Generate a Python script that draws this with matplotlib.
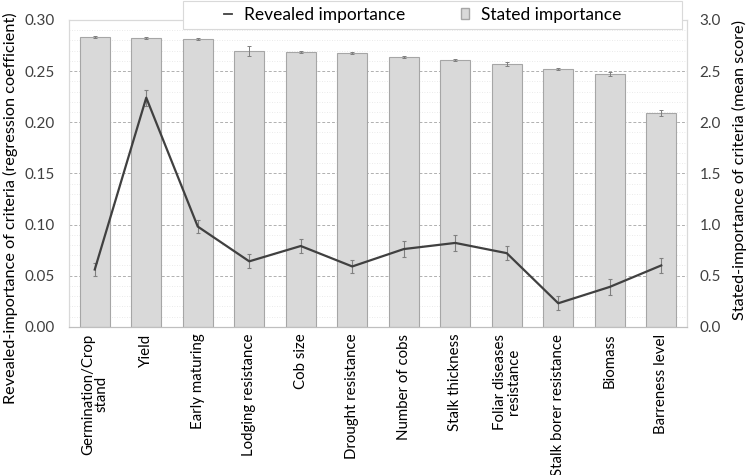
import matplotlib.pyplot as plt
import numpy as np
from matplotlib.lines import Line2D
from matplotlib.patches import Patch, Rectangle

plt.rcParams['font.family'] = ['Lato', 'DejaVu Sans']

# criteria on the x axis
criteria = ['Germination/Crop\nstand', 'Yield', 'Early maturing', 'Lodging resistance',
            'Cob size', 'Drought resistance', 'Number of cobs', 'Stalk thickness',
            'Foliar diseases\nresistance', 'Stalk borer resistance', 'Biomass', 'Barreness level']

# stated importance (mean score, right axis) and its error
stated = [2.83, 2.82, 2.81, 2.70, 2.69, 2.68, 2.64, 2.61, 2.57, 2.52, 2.47, 2.09]
stated_err = [0.01, 0.01, 0.01, 0.05, 0.01, 0.01, 0.01, 0.01, 0.02, 0.01, 0.02, 0.03]

# revealed importance (regression coefficient, left axis) and its error
revealed = [0.056, 0.224, 0.098, 0.064, 0.079, 0.059, 0.076, 0.082, 0.072, 0.023, 0.039, 0.060]
revealed_err = [0.006, 0.008, 0.006, 0.007, 0.007, 0.006, 0.008, 0.008, 0.007, 0.007, 0.008, 0.007]

x = np.arange(len(criteria))

fig = plt.figure(figsize=(7.5, 4.75), dpi=100)
ax = fig.add_axes([0.092, 0.312, 0.824, 0.646])
ax2 = ax.twinx()

# bars on the right axis, drawn underneath
ax2.bar(x, stated, width=0.58, color='#d9d9d9', edgecolor='#a6a6a6', linewidth=0.8, zorder=2)
ax2.errorbar(x, stated, yerr=stated_err, fmt='none', ecolor='#7f7f7f', elinewidth=0.7,
             capsize=1.5, capthick=0.7, zorder=3)
ax2.set_ylim(0, 3.0)
ax2.set_yticks(np.arange(0, 3.01, 0.5))
ax2.set_yticklabels([f'{v:.1f}' for v in np.arange(0, 3.01, 0.5)])
ax2.set_yticks(np.arange(0, 3.01, 0.1), minor=True)
ax2.grid(True, which='major', axis='y', linestyle=(0, (3, 2)), color='#b0b0b0', linewidth=0.7)
ax2.grid(True, which='minor', axis='y', linestyle=(0, (1, 2)), color='#e3e3e3', linewidth=0.6)
ax2.set_axisbelow(True)

# line on the left axis, on top
ax.set_zorder(ax2.get_zorder() + 1)
ax.patch.set_visible(False)
ax.errorbar(x, revealed, yerr=revealed_err, fmt='none', ecolor='#808080', elinewidth=0.8,
            capsize=1.5, capthick=0.8, zorder=3)
ax.plot(x, revealed, color='#404040', linewidth=1.6, zorder=4)
ax.set_ylim(0, 0.30)
ax.set_yticks(np.arange(0, 0.301, 0.05))
ax.set_yticklabels([f'{v:.2f}' for v in np.arange(0, 0.301, 0.05)])
ax.set_xlim(-0.5, len(criteria) - 0.5)
ax.set_xticks(x)
ax.set_xticklabels(criteria, rotation=90, linespacing=1.0, multialignment='center')

for a in (ax, ax2):
    a.tick_params(axis='both', which='both', length=0, colors='#404040', labelsize=11)
    for s in a.spines.values():
        s.set_color('#d9d9d9')
        s.set_linewidth(0.8)
    a.spines['bottom'].set_color('#bfbfbf')
ax.tick_params(axis='x', labelsize=10.8, colors='black', pad=5)
ax.tick_params(axis='y', pad=10)
ax2.tick_params(axis='y', pad=9)

fig.text(0.014, 0.562, 'Revealed-importance of criteria (regression coefficient)',
         rotation=90, fontsize=11.7, ha='center', va='center')
fig.text(0.986, 0.642, 'Stated-importance of criteria (mean score)',
         rotation=90, fontsize=11.7, ha='center', va='center')

# legend box spanning the top like the original
fig.add_artist(Rectangle((183 / 750, 1 - 29 / 475), 499 / 750, 28 / 475,
                         transform=fig.transFigure, facecolor='white',
                         edgecolor='#d9d9d9', linewidth=0.8, zorder=5))
handles = [Line2D([0], [0], color='#404040', linewidth=1.3),
           Patch(facecolor='#d9d9d9', edgecolor='#a6a6a6')]
leg = fig.legend(handles, ['Revealed importance', 'Stated importance'], ncol=2,
                 loc='center left', bbox_to_anchor=(224 / 750, 1 - 15 / 475), fontsize=12.5,
                 frameon=False, handlelength=0.45, handleheight=0.6, handletextpad=0.7,
                 columnspacing=3.2, borderpad=0.0, borderaxespad=0.0)
leg.set_zorder(10)

fig.savefig('out.png', dpi=100)
